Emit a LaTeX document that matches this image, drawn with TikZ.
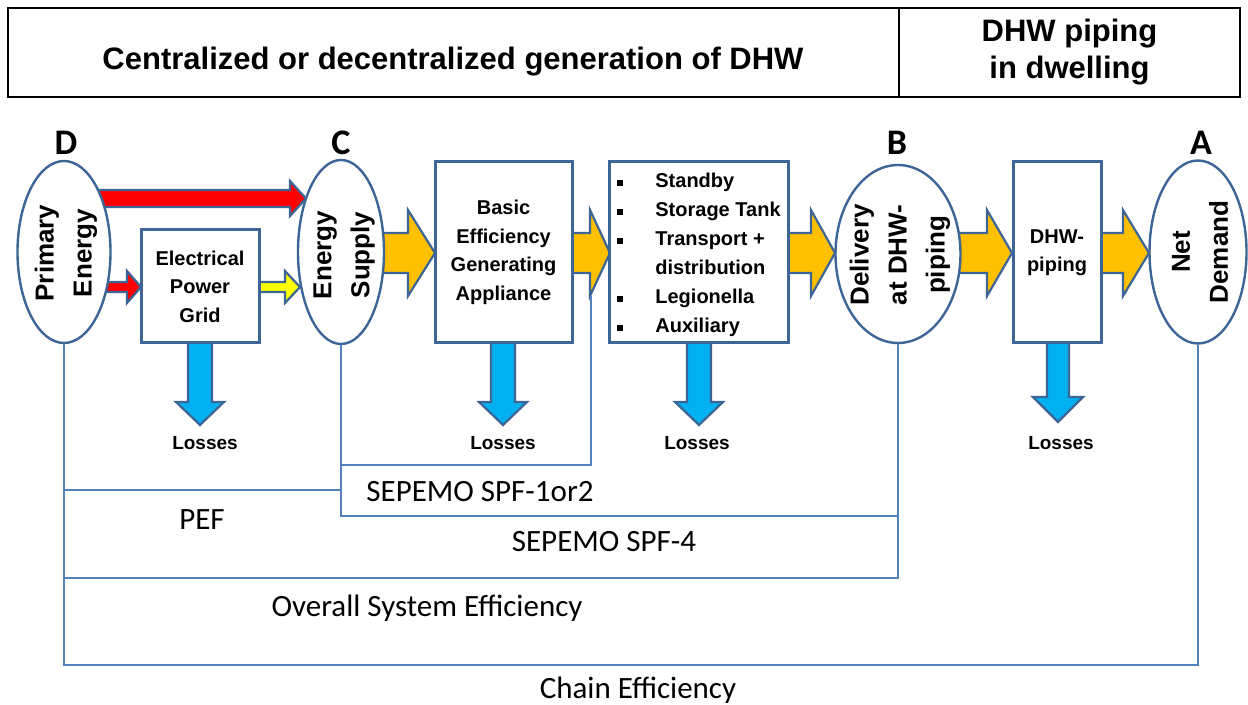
\documentclass[tikz,border=0pt]{standalone}
\usepackage{fontspec}
\setmainfont{Liberation Sans}
\newfontfamily\carl{Carlito}
\usetikzlibrary{shapes.geometric}
\definecolor{bord}{RGB}{61,101,150}
\definecolor{thinc}{RGB}{84,130,190}
\definecolor{orng}{RGB}{255,192,0}
\definecolor{lblue}{RGB}{0,176,240}
\definecolor{redf}{RGB}{255,0,0}
\definecolor{yelf}{RGB}{255,255,0}
\newcommand\fatR[7]{\draw[arrowline,fill=#7] (#1,#4-#5) -- (#3,#4-#5) -- (#3,#4-#6) -- (#2,#4) -- (#3,#4+#6) -- (#3,#4+#5) -- (#1,#4+#5) -- cycle;}
\newcommand\fatD[7]{\draw[arrowline,fill=#7] (#1-#5,#2) -- (#1-#5,#3) -- (#1-#6,#3) -- (#1,#4) -- (#1+#6,#3) -- (#1+#5,#3) -- (#1+#5,#2) -- cycle;}
\newcommand\sqb{\rule[1pt]{3pt}{3pt}}
\begin{document}
\begin{tikzpicture}[x=0.5pt,y=-0.5pt,
 ellip/.style={ellipse,draw=bord,line width=1.2pt,fill=white,inner sep=0pt},
 boxn/.style={rectangle,draw=bord,line width=1.5pt,fill=white,inner sep=0pt,align=center,font=\bfseries\fontsize{10}{14.25}\selectfont},
 elltext/.style={rotate=90,align=center,inner sep=0pt,font=\bfseries\fontsize{13}{19}\selectfont},
 letter/.style={font=\carl\bfseries\fontsize{18}{20}\selectfont,inner sep=0pt},
 loss/.style={font=\bfseries\fontsize{9.5}{11}\selectfont,inner sep=0pt},
 eff/.style={font=\carl\fontsize{15.5}{18}\selectfont,inner sep=0pt},
 conn/.style={draw=thinc,line width=0.75pt},
 arrowline/.style={draw=bord,line width=1.1pt,line join=miter},
 hdr/.style={rectangle,draw=black,line width=1pt,inner sep=0pt},
 hdrtext/.style={font=\bfseries\fontsize{15.5}{18.5}\selectfont,align=center,inner sep=0pt}]
\useasboundingbox (0,0) rectangle (1248,705);
\fill[white] (0,0) rectangle (1248,705);
% header
\node[hdr,minimum width=445.5pt,minimum height=44.5pt] (hdrL) at (453.5,52.5) {};
\node[hdr,minimum width=170.5pt,minimum height=44.5pt] (hdrR) at (1069.5,52.5) {};
\node[hdrtext] (hdrLt) at (453,62) {Centralized or decentralized generation of DHW};
\node[hdrtext] (hdrRt) at (hdrR) {DHW piping\\in dwelling};
% fat arrows
\fatR{380}{435}{408}{253}{20}{43}{orng}
\fatR{570}{610}{590}{253}{20}{43}{orng}
\fatR{786}{835}{811}{253}{20}{43}{orng}
\fatR{955}{1012}{987}{253}{20}{43}{orng}
\fatR{1099}{1149}{1123}{253}{20}{43}{orng}
\fatR{96}{306}{290}{198.5}{8.5}{17.5}{redf}
\fatR{105}{141}{127}{287}{5}{16}{redf}
\fatR{257}{300}{285}{287}{5}{16}{yelf}
\fatD{200}{340}{402}{425}{12}{24}{lblue}
\fatD{503}{340}{402}{425}{12}{24}{lblue}
\fatD{699}{340}{402}{425}{12}{24}{lblue}
\fatD{1058}{340}{397}{422}{11}{25}{lblue}
% ellipses
\node[ellip,minimum width=46.5pt,minimum height=91pt] (pe) at (64,252) {};
\node[ellip,minimum width=43pt,minimum height=92pt] (es) at (341,252) {};
\node[ellip,minimum width=62.5pt,minimum height=89pt] (dl) at (898,254) {};
\node[ellip,minimum width=48.5pt,minimum height=91.5pt] (nd) at (1198,252) {};
\node[elltext] (pet) at (66,253) {Primary\\Energy};
\node[elltext] (est) at (344,255) {Energy\\Supply};
\node[elltext] (dlt) at (900,255) {Delivery\\at DHW-\\piping};
\node[elltext] (ndt) at (1200,252) {Net\\Demand};
% boxes
\node[boxn,minimum width=59pt,minimum height=56.5pt] (grid) at (200,286.5) {Electrical\\Power\\Grid};
\node[boxn,minimum width=68.5pt,minimum height=90.5pt] (basic) at (503.5,252.5) {Basic\\Efficiency\\Generating\\Appliance};
\node[boxn,minimum width=89.5pt,minimum height=90.5pt] (bul) at (698.5,252.5) {};
\node[boxn,minimum width=44pt,minimum height=90.5pt] (dhw) at (1057,252.5) {DHW-\\piping};
\node[anchor=west,inner sep=0pt,font=\bfseries\fontsize{10}{14.5}\selectfont] (bult) at (617,254.5) {\begin{tabular}{@{}l@{\hspace{16pt}}l@{}}\sqb&Standby\\\sqb&Storage Tank\\\sqb&Transport +\\&distribution\\\sqb&Legionella\\\sqb&Auxiliary\end{tabular}};
% letters
\node[letter] (lD) at (66,143) {D};
\node[letter] (lC) at (341,143) {C};
\node[letter] (lB) at (897,143) {B};
\node[letter] (lA) at (1201,143) {A};
% losses
\node[loss] (los1) at (205,443) {Losses};
\node[loss] (los2) at (503,443) {Losses};
\node[loss] (los3) at (697,443) {Losses};
\node[loss] (los4) at (1061,443) {Losses};
% connectors
\coordinate (yChain) at (600,665);
\coordinate (yOver) at (400,578);
\coordinate (yPEF) at (200,490);
\coordinate (ySPF4) at (600,516);
\coordinate (ySPF12) at (500,465);
\coordinate (a2bot) at (591,296);
\draw[conn] (pe.south) |- (yChain) -| (nd.south);
\draw[conn] (pe.south) |- (yOver) -| (dl.south);
\draw[conn] (pe.south) |- (yPEF) -| (es.south);
\draw[conn] (es.south) |- (ySPF4) -| (dl.south);
\draw[conn] (es.south) |- (ySPF12) -| (a2bot);
% labels
\node[eff] (t1) at (480,492) {SEPEMO SPF-1or2};
\node[eff] (t2) at (202,520) {PEF};
\node[eff] (t3) at (604,542) {SEPEMO SPF-4};
\node[eff] (t4) at (427,608) {Overall System Efficiency};
\node[eff] (t5) at (638,690) {Chain Efficiency};
\end{tikzpicture}
\end{document}
